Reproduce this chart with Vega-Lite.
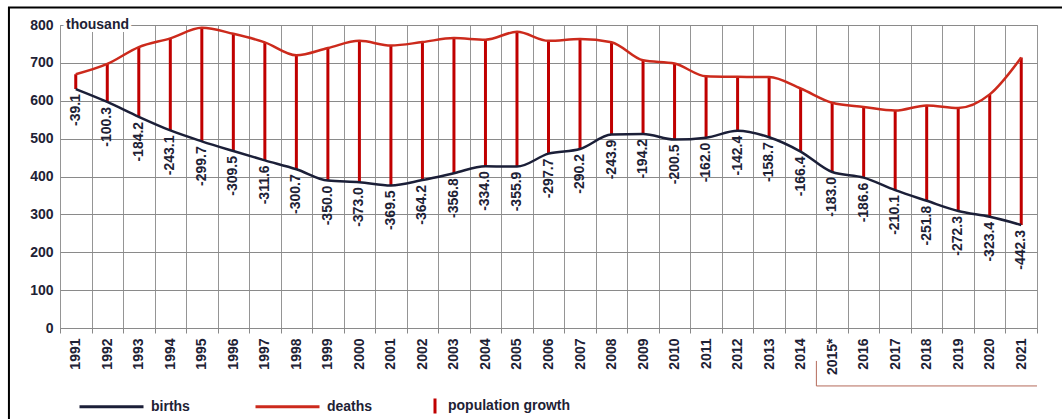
{
  "$schema": "https://vega.github.io/schema/vega-lite/v6.json",
  "width": 977,
  "height": 303,
  "autosize": {"type": "none"},
  "padding": {"left": 60, "top": 25, "right": 25, "bottom": 91},
  "background": "white",
  "config": {
    "font": "Liberation Sans",
    "view": {"stroke": "#888888", "strokeWidth": 1},
    "locale": {"number": {"decimal": ".", "thousands": ",", "grouping": [3], "currency": ["$", ""], "minus": "-"}},
    "axisY": {
      "title": null,
      "domain": false,
      "ticks": false,
      "grid": true,
      "gridColor": "#8a8a8a",
      "labelPadding": 7,
      "labelFontSize": 14,
      "labelFontWeight": "bold",
      "labelColor": "#1e2235"
    },
    "axisX": {
      "title": null,
      "domain": false,
      "grid": true,
      "gridColor": "#959595",
      "ticks": true,
      "tickSize": 5,
      "tickColor": "#888888",
      "labelAngle": 270,
      "labelAlign": "right",
      "labelBaseline": "middle",
      "labelPadding": 5,
      "labelFontSize": 14,
      "labelFontWeight": "bold",
      "labelColor": "#1e2235",
      "labelOverlap": false,
      "labelBound": false,
      "labelFlush": false
    }
  },
  "datasets": {
    "main": [
      {"year": 1991, "births": 630.8, "deaths": 669.9, "growth": -39.1},
      {"year": 1992, "births": 596.8, "deaths": 697.1, "growth": -100.3},
      {"year": 1993, "births": 557.5, "deaths": 741.7, "growth": -184.2},
      {"year": 1994, "births": 521.6, "deaths": 764.7, "growth": -243.1},
      {"year": 1995, "births": 492.9, "deaths": 792.6, "growth": -299.7},
      {"year": 1996, "births": 467.2, "deaths": 776.7, "growth": -309.5},
      {"year": 1997, "births": 442.6, "deaths": 754.2, "growth": -311.6},
      {"year": 1998, "births": 419.2, "deaths": 719.9, "growth": -300.7},
      {"year": 1999, "births": 389.2, "deaths": 739.2, "growth": -350.0},
      {"year": 2000, "births": 385.1, "deaths": 758.1, "growth": -373.0},
      {"year": 2001, "births": 376.5, "deaths": 745.9, "growth": -369.5},
      {"year": 2002, "births": 390.7, "deaths": 754.9, "growth": -364.2},
      {"year": 2003, "births": 408.6, "deaths": 765.4, "growth": -356.8},
      {"year": 2004, "births": 427.3, "deaths": 761.3, "growth": -334.0},
      {"year": 2005, "births": 426.1, "deaths": 782.0, "growth": -355.9},
      {"year": 2006, "births": 460.4, "deaths": 758.1, "growth": -297.7},
      {"year": 2007, "births": 472.7, "deaths": 762.9, "growth": -290.2},
      {"year": 2008, "births": 510.6, "deaths": 754.5, "growth": -243.9},
      {"year": 2009, "births": 512.5, "deaths": 706.7, "growth": -194.2},
      {"year": 2010, "births": 497.7, "deaths": 698.2, "growth": -200.5},
      {"year": 2011, "births": 502.6, "deaths": 664.6, "growth": -162.0},
      {"year": 2012, "births": 520.7, "deaths": 663.1, "growth": -142.4},
      {"year": 2013, "births": 503.7, "deaths": 662.4, "growth": -158.7},
      {"year": 2014, "births": 465.9, "deaths": 632.3, "growth": -166.4},
      {"year": 2015, "births": 411.8, "deaths": 594.8, "growth": -183.0},
      {"year": 2016, "births": 397.0, "deaths": 583.6, "growth": -186.6},
      {"year": 2017, "births": 364.0, "deaths": 574.1, "growth": -210.1},
      {"year": 2018, "births": 335.9, "deaths": 587.7, "growth": -251.8},
      {"year": 2019, "births": 308.8, "deaths": 581.1, "growth": -272.3},
      {"year": 2020, "births": 293.5, "deaths": 616.8, "growth": -323.4},
      {"year": 2021, "births": 272.0, "deaths": 714.3, "growth": -442.3}
    ],
    "note": [{"label": "thousand"}]
  },
  "data": {"name": "main"},
  "layer": [
    {
      "mark": {"type": "rule", "color": "#c00000", "strokeWidth": 3},
      "encoding": {
        "x": {
          "field": "year",
          "type": "quantitative",
          "scale": {"domain": [1990.5, 2021.5], "nice": false, "zero": false},
          "axis": {
            "values": [1990.5,1991,1991.5,1992,1992.5,1993,1993.5,1994,1994.5,1995,1995.5,1996,1996.5,1997,1997.5,1998,1998.5,1999,1999.5,2000,2000.5,2001,2001.5,2002,2002.5,2003,2003.5,2004,2004.5,2005,2005.5,2006,2006.5,2007,2007.5,2008,2008.5,2009,2009.5,2010,2010.5,2011,2011.5,2012,2012.5,2013,2013.5,2014,2014.5,2015,2015.5,2016,2016.5,2017,2017.5,2018,2018.5,2019,2019.5,2020,2020.5,2021,2021.5],
            "tickCount": 1000,
            "title": null,
            "gridOpacity": {"condition": {"test": "datum.value % 1 !== 0", "value": 1}, "value": 0},
            "tickOpacity": {"condition": {"test": "datum.value % 1 !== 0", "value": 1}, "value": 0},
            "labelExpr": "datum.value % 1 === 0 ? (datum.value === 2015 ? '2015*' : toString(datum.value)) : ''"
          }
        },
        "y": {
          "field": "births",
          "type": "quantitative",
          "scale": {"domain": [0, 800], "nice": false},
          "axis": {"title": null, "values": [0, 100, 200, 300, 400, 500, 600, 700, 800], "tickCount": 1000}
        },
        "y2": {"field": "deaths"},
        "strokeDash": {
          "datum": "population growth",
          "type": "nominal",
          "scale": {"domain": ["population growth"], "range": [[1, 0]]},
          "legend": {
            "orient": "none",
            "legendX": 366,
            "legendY": 372,
            "title": null,
            "padding": 0,
            "symbolType": "M0,-1L0,1",
            "symbolSize": 225,
            "symbolStrokeColor": "#c00000",
            "symbolStrokeWidth": 3,
            "labelFontSize": 14,
            "labelFontWeight": "bold",
            "labelColor": "#1e2235",
            "labelOffset": 4
          }
        }
      }
    },
    {
      "mark": {"type": "line", "strokeWidth": 2.5, "interpolate": "monotone"},
      "encoding": {
        "x": {
          "field": "year",
          "type": "quantitative",
          "axis": {
            "values": [1990.5,1991,1991.5,1992,1992.5,1993,1993.5,1994,1994.5,1995,1995.5,1996,1996.5,1997,1997.5,1998,1998.5,1999,1999.5,2000,2000.5,2001,2001.5,2002,2002.5,2003,2003.5,2004,2004.5,2005,2005.5,2006,2006.5,2007,2007.5,2008,2008.5,2009,2009.5,2010,2010.5,2011,2011.5,2012,2012.5,2013,2013.5,2014,2014.5,2015,2015.5,2016,2016.5,2017,2017.5,2018,2018.5,2019,2019.5,2020,2020.5,2021,2021.5],
            "tickCount": 1000,
            "title": null,
            "gridOpacity": {"condition": {"test": "datum.value % 1 !== 0", "value": 1}, "value": 0},
            "tickOpacity": {"condition": {"test": "datum.value % 1 !== 0", "value": 1}, "value": 0},
            "labelExpr": "datum.value % 1 === 0 ? (datum.value === 2015 ? '2015*' : toString(datum.value)) : ''"
          }
        },
        "y": {"field": "deaths", "type": "quantitative", "axis": {"title": null, "values": [0, 100, 200, 300, 400, 500, 600, 700, 800], "tickCount": 1000}},
        "color": {
          "datum": "deaths",
          "type": "nominal",
          "scale": {"domain": ["births", "deaths"], "range": ["#1b1f38", "#cc2a1c"]},
          "legend": {
            "orient": "none",
            "legendX": 18,
            "legendY": 348,
            "direction": "horizontal",
            "title": null,
            "padding": 0,
            "symbolType": "stroke",
            "symbolSize": 4096,
            "symbolStrokeWidth": 3,
            "labelFontSize": 14,
            "labelFontWeight": "bold",
            "labelColor": "#1e2235",
            "labelOffset": 6,
            "columnPadding": 59
          }
        }
      }
    },
    {
      "mark": {"type": "line", "strokeWidth": 2.5, "interpolate": "monotone"},
      "encoding": {
        "x": {
          "field": "year",
          "type": "quantitative",
          "axis": {
            "values": [1990.5,1991,1991.5,1992,1992.5,1993,1993.5,1994,1994.5,1995,1995.5,1996,1996.5,1997,1997.5,1998,1998.5,1999,1999.5,2000,2000.5,2001,2001.5,2002,2002.5,2003,2003.5,2004,2004.5,2005,2005.5,2006,2006.5,2007,2007.5,2008,2008.5,2009,2009.5,2010,2010.5,2011,2011.5,2012,2012.5,2013,2013.5,2014,2014.5,2015,2015.5,2016,2016.5,2017,2017.5,2018,2018.5,2019,2019.5,2020,2020.5,2021,2021.5],
            "tickCount": 1000,
            "title": null,
            "gridOpacity": {"condition": {"test": "datum.value % 1 !== 0", "value": 1}, "value": 0},
            "tickOpacity": {"condition": {"test": "datum.value % 1 !== 0", "value": 1}, "value": 0},
            "labelExpr": "datum.value % 1 === 0 ? (datum.value === 2015 ? '2015*' : toString(datum.value)) : ''"
          }
        },
        "y": {"field": "births", "type": "quantitative", "axis": {"title": null, "values": [0, 100, 200, 300, 400, 500, 600, 700, 800], "tickCount": 1000}},
        "color": {"datum": "births", "type": "nominal"}
      }
    },
    {
      "mark": {"type": "text", "angle": 270, "align": "right", "baseline": "middle", "dx": -5, "fontSize": 14, "fontWeight": "bold", "color": "#1e2235"},
      "encoding": {
        "x": {
          "field": "year",
          "type": "quantitative",
          "axis": {
            "values": [1990.5,1991,1991.5,1992,1992.5,1993,1993.5,1994,1994.5,1995,1995.5,1996,1996.5,1997,1997.5,1998,1998.5,1999,1999.5,2000,2000.5,2001,2001.5,2002,2002.5,2003,2003.5,2004,2004.5,2005,2005.5,2006,2006.5,2007,2007.5,2008,2008.5,2009,2009.5,2010,2010.5,2011,2011.5,2012,2012.5,2013,2013.5,2014,2014.5,2015,2015.5,2016,2016.5,2017,2017.5,2018,2018.5,2019,2019.5,2020,2020.5,2021,2021.5],
            "tickCount": 1000,
            "title": null,
            "gridOpacity": {"condition": {"test": "datum.value % 1 !== 0", "value": 1}, "value": 0},
            "tickOpacity": {"condition": {"test": "datum.value % 1 !== 0", "value": 1}, "value": 0},
            "labelExpr": "datum.value % 1 === 0 ? (datum.value === 2015 ? '2015*' : toString(datum.value)) : ''"
          }
        },
        "y": {"field": "births", "type": "quantitative", "axis": {"title": null, "values": [0, 100, 200, 300, 400, 500, 600, 700, 800], "tickCount": 1000}},
        "text": {"field": "growth", "type": "quantitative", "format": ".1f"}
      }
    },
    {
      "data": {"name": "note"},
      "mark": {"type": "text", "align": "left", "baseline": "middle", "dx": 6, "fontSize": 14, "fontWeight": "bold", "color": "#ffffff", "stroke": "#ffffff", "strokeWidth": 6},
      "encoding": {
        "x": {
          "datum": 1990.5,
          "type": "quantitative",
          "axis": {
            "values": [1990.5,1991,1991.5,1992,1992.5,1993,1993.5,1994,1994.5,1995,1995.5,1996,1996.5,1997,1997.5,1998,1998.5,1999,1999.5,2000,2000.5,2001,2001.5,2002,2002.5,2003,2003.5,2004,2004.5,2005,2005.5,2006,2006.5,2007,2007.5,2008,2008.5,2009,2009.5,2010,2010.5,2011,2011.5,2012,2012.5,2013,2013.5,2014,2014.5,2015,2015.5,2016,2016.5,2017,2017.5,2018,2018.5,2019,2019.5,2020,2020.5,2021,2021.5],
            "tickCount": 1000,
            "title": null,
            "gridOpacity": {"condition": {"test": "datum.value % 1 !== 0", "value": 1}, "value": 0},
            "tickOpacity": {"condition": {"test": "datum.value % 1 !== 0", "value": 1}, "value": 0},
            "labelExpr": "datum.value % 1 === 0 ? (datum.value === 2015 ? '2015*' : toString(datum.value)) : ''"
          }
        },
        "y": {"datum": 800, "type": "quantitative", "axis": {"title": null, "values": [0, 100, 200, 300, 400, 500, 600, 700, 800], "tickCount": 1000}},
        "text": {"field": "label", "type": "nominal"}
      }
    },
    {
      "data": {"name": "note"},
      "mark": {"type": "text", "align": "left", "baseline": "middle", "dx": 6, "fontSize": 14, "fontWeight": "bold", "color": "#1e2235"},
      "encoding": {
        "x": {
          "datum": 1990.5,
          "type": "quantitative",
          "axis": {
            "values": [1990.5,1991,1991.5,1992,1992.5,1993,1993.5,1994,1994.5,1995,1995.5,1996,1996.5,1997,1997.5,1998,1998.5,1999,1999.5,2000,2000.5,2001,2001.5,2002,2002.5,2003,2003.5,2004,2004.5,2005,2005.5,2006,2006.5,2007,2007.5,2008,2008.5,2009,2009.5,2010,2010.5,2011,2011.5,2012,2012.5,2013,2013.5,2014,2014.5,2015,2015.5,2016,2016.5,2017,2017.5,2018,2018.5,2019,2019.5,2020,2020.5,2021,2021.5],
            "tickCount": 1000,
            "title": null,
            "gridOpacity": {"condition": {"test": "datum.value % 1 !== 0", "value": 1}, "value": 0},
            "tickOpacity": {"condition": {"test": "datum.value % 1 !== 0", "value": 1}, "value": 0},
            "labelExpr": "datum.value % 1 === 0 ? (datum.value === 2015 ? '2015*' : toString(datum.value)) : ''"
          }
        },
        "y": {"datum": 800, "type": "quantitative", "axis": {"title": null, "values": [0, 100, 200, 300, 400, 500, 600, 700, 800], "tickCount": 1000}},
        "text": {"field": "label", "type": "nominal"}
      }
    },
    {
      "data": {"name": "note"},
      "mark": {"type": "rule", "color": "#b46a5a", "strokeWidth": 1},
      "encoding": {
        "x": {
          "datum": 2014.5,
          "type": "quantitative",
          "axis": {
            "values": [1990.5,1991,1991.5,1992,1992.5,1993,1993.5,1994,1994.5,1995,1995.5,1996,1996.5,1997,1997.5,1998,1998.5,1999,1999.5,2000,2000.5,2001,2001.5,2002,2002.5,2003,2003.5,2004,2004.5,2005,2005.5,2006,2006.5,2007,2007.5,2008,2008.5,2009,2009.5,2010,2010.5,2011,2011.5,2012,2012.5,2013,2013.5,2014,2014.5,2015,2015.5,2016,2016.5,2017,2017.5,2018,2018.5,2019,2019.5,2020,2020.5,2021,2021.5],
            "tickCount": 1000,
            "title": null,
            "gridOpacity": {"condition": {"test": "datum.value % 1 !== 0", "value": 1}, "value": 0},
            "tickOpacity": {"condition": {"test": "datum.value % 1 !== 0", "value": 1}, "value": 0},
            "labelExpr": "datum.value % 1 === 0 ? (datum.value === 2015 ? '2015*' : toString(datum.value)) : ''"
          }
        },
        "y": {"datum": -87, "type": "quantitative", "axis": {"title": null, "values": [0, 100, 200, 300, 400, 500, 600, 700, 800], "tickCount": 1000}},
        "y2": {"datum": -153}
      }
    },
    {
      "data": {"name": "note"},
      "mark": {"type": "rule", "color": "#b46a5a", "strokeWidth": 1},
      "encoding": {
        "x": {
          "datum": 2014.5,
          "type": "quantitative",
          "axis": {
            "values": [1990.5,1991,1991.5,1992,1992.5,1993,1993.5,1994,1994.5,1995,1995.5,1996,1996.5,1997,1997.5,1998,1998.5,1999,1999.5,2000,2000.5,2001,2001.5,2002,2002.5,2003,2003.5,2004,2004.5,2005,2005.5,2006,2006.5,2007,2007.5,2008,2008.5,2009,2009.5,2010,2010.5,2011,2011.5,2012,2012.5,2013,2013.5,2014,2014.5,2015,2015.5,2016,2016.5,2017,2017.5,2018,2018.5,2019,2019.5,2020,2020.5,2021,2021.5],
            "tickCount": 1000,
            "title": null,
            "gridOpacity": {"condition": {"test": "datum.value % 1 !== 0", "value": 1}, "value": 0},
            "tickOpacity": {"condition": {"test": "datum.value % 1 !== 0", "value": 1}, "value": 0},
            "labelExpr": "datum.value % 1 === 0 ? (datum.value === 2015 ? '2015*' : toString(datum.value)) : ''"
          }
        },
        "x2": {"datum": 2021.5},
        "y": {"datum": -153, "type": "quantitative", "axis": {"title": null, "values": [0, 100, 200, 300, 400, 500, 600, 700, 800], "tickCount": 1000}}
      }
    },
    {
      "data": {"name": "note"},
      "mark": {"type": "rect", "fillOpacity": 0, "stroke": "#000000", "strokeWidth": 2},
      "encoding": {
        "x": {
          "datum": 1988.88,
          "type": "quantitative",
          "axis": {
            "values": [1990.5,1991,1991.5,1992,1992.5,1993,1993.5,1994,1994.5,1995,1995.5,1996,1996.5,1997,1997.5,1998,1998.5,1999,1999.5,2000,2000.5,2001,2001.5,2002,2002.5,2003,2003.5,2004,2004.5,2005,2005.5,2006,2006.5,2007,2007.5,2008,2008.5,2009,2009.5,2010,2010.5,2011,2011.5,2012,2012.5,2013,2013.5,2014,2014.5,2015,2015.5,2016,2016.5,2017,2017.5,2018,2018.5,2019,2019.5,2020,2020.5,2021,2021.5],
            "tickCount": 1000,
            "title": null,
            "gridOpacity": {"condition": {"test": "datum.value % 1 !== 0", "value": 1}, "value": 0},
            "tickOpacity": {"condition": {"test": "datum.value % 1 !== 0", "value": 1}, "value": 0},
            "labelExpr": "datum.value % 1 === 0 ? (datum.value === 2015 ? '2015*' : toString(datum.value)) : ''"
          }
        },
        "x2": {"datum": 2030},
        "y": {"datum": 846, "type": "quantitative", "axis": {"title": null, "values": [0, 100, 200, 300, 400, 500, 600, 700, 800], "tickCount": 1000}},
        "y2": {"datum": -400}
      }
    }
  ]
}
